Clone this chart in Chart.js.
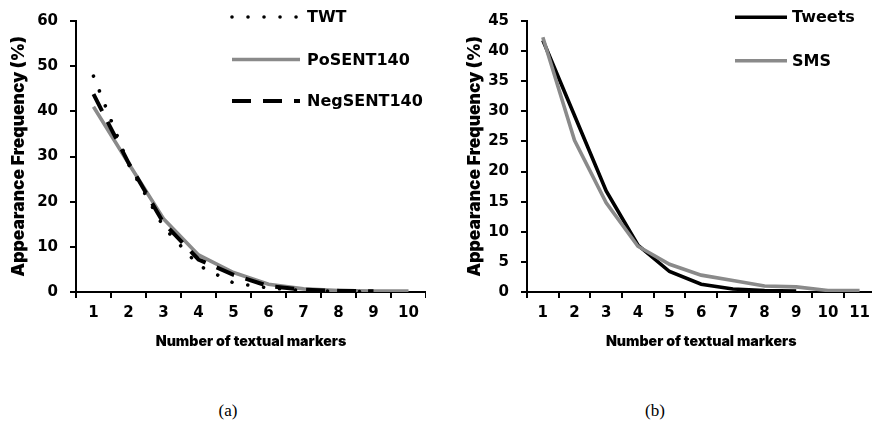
<!DOCTYPE html>
<html><head><meta charset="utf-8">
<script src="https://cdn.jsdelivr.net/npm/chart.js@4/dist/chart.umd.min.js"></script>
<style>
html,body{margin:0;padding:0;background:#fff;overflow:hidden;width:872px;height:429px;position:relative;}
#ca{position:absolute;left:0;top:0;}
#cb{position:absolute;left:450px;top:0;}
.cap{position:absolute;top:401px;font-family:"Liberation Serif",serif;font-size:17px;color:#000;transform:translateX(-50%);}
</style></head><body>
<canvas id="ca" width="426" height="354"></canvas>
<canvas id="cb" width="426" height="354"></canvas>
<div class="cap" style="left:228px">(a)</div>
<div class="cap" style="left:655px">(b)</div>
<script>
// ---- data (a)
const catsA = ["1","2","3","4","5","6","7","8","9","10"];
const twt = [47.8, 28.3, 14.4, 5.9, 2.0, 0.9, 0.3, 0.15, 0.1];
const poSent = [41.0, 28.5, 16.2, 8.2, 4.3, 1.7, 0.7, 0.3, 0.2, 0.2];
const negSent = [43.8, 28.6, 15.3, 7.2, 3.8, 1.3, 0.5, 0.25, 0.15];
const yTicksA = [0, 60, 10]; // min, max, step
// ---- data (b)
const catsB = ["1","2","3","4","5","6","7","8","9","10","11"];
const tweets = [41.8, 29.3, 16.8, 7.8, 3.4, 1.3, 0.5, 0.25, 0.15];
const sms = [42.3, 25.2, 14.8, 7.6, 4.6, 2.8, 1.9, 1.0, 0.85, 0.25, 0.25];
const yTicksB = [0, 45, 5];

const insideLegend = {
  id: 'insideLegend',
  afterDraw(chart, args, o) {
    const ctx = chart.ctx;
    ctx.save();
    chart.data.datasets.forEach((ds, i) => {
      const y = o.rows[i];
      ctx.beginPath();
      ctx.strokeStyle = ds.borderColor;
      ctx.lineWidth = ds.borderWidth;
      ctx.setLineDash(ds.borderDash || []);
      ctx.lineCap = ds.borderCapStyle || 'butt';
      ctx.moveTo(o.x0, y); ctx.lineTo(o.x1, y); ctx.stroke();
      ctx.setLineDash([]);
      ctx.fillStyle = '#000';
      ctx.font = 'bold 16px "DejaVu Sans"';
      ctx.textBaseline = 'middle'; ctx.textAlign = 'left';
      ctx.fillText(ds.label, o.tx, y + 1);
    });
    ctx.restore();
  }
};

const tickFont = {family: 'DejaVu Sans', weight: 'bold', size: 15};
function scales(yt, yw, ytitlePad) {
  return {
    x: {
      type: 'category', offset: true,
      grid: {offset: true, drawOnChartArea: false, drawTicks: true, tickLength: 6, color: '#000', lineWidth: 2},
      border: {color: '#000', width: 2},
      ticks: {font: tickFont, color: '#000', padding: 6, maxRotation: 0, autoSkip: false},
      title: {display: true, text: 'Number of textual markers', color: '#000',
              font: {family: 'Inter', weight: '900', size: 14.2}, padding: {top: 4, bottom: 4}},
      afterFit(s) { s.height = 62; }
    },
    y: {
      min: yt[0], max: yt[1],
      grid: {drawOnChartArea: false, drawTicks: true, tickLength: 6, color: '#000', lineWidth: 2},
      border: {color: '#000', width: 2},
      ticks: {stepSize: yt[2], font: tickFont, color: '#000', padding: 12},
      title: {display: true, text: 'Appearance Frequency (%)', color: '#000',
              font: {family: 'Inter', weight: '900', size: 17.5}, padding: {top: ytitlePad, bottom: 0}},
      afterFit(s) { s.width = yw; }
    }
  };
}
const common = {
  responsive: false, animation: false, devicePixelRatio: 1,
  layout: {padding: {top: 10, right: 0, left: 0, bottom: 0}},
  elements: {point: {radius: 0}, line: {tension: 0}},
};

new Chart(document.getElementById('ca'), {
  type: 'line',
  data: {labels: catsA, datasets: [
    {label: 'TWT', data: twt, borderColor: '#000', borderWidth: 3.6, borderDash: [0.01, 16], borderCapStyle: 'round', order: 1},
    {label: 'PoSENT140', data: poSent, borderColor: '#8a8a8a', borderWidth: 3.6, order: 3},
    {label: 'NegSENT140', data: negSent, borderColor: '#000', borderWidth: 4, borderDash: [19, 12], order: 2}
  ]},
  options: Object.assign({}, common, {
    scales: scales(yTicksA, 76, 8),
    plugins: {legend: {display: false}, tooltip: {enabled: false},
      insideLegend: {x0: 232, x1: 300, tx: 307, rows: [17, 59.5, 101]}}
  }),
  plugins: [insideLegend]
});

new Chart(document.getElementById('cb'), {
  type: 'line',
  data: {labels: catsB, datasets: [
    {label: 'Tweets', data: tweets, borderColor: '#000', borderWidth: 3.6, order: 2},
    {label: 'SMS', data: sms, borderColor: '#8a8a8a', borderWidth: 3.6, order: 1}
  ]},
  options: Object.assign({}, common, {
    scales: scales(yTicksB, 77, 14),
    plugins: {legend: {display: false}, tooltip: {enabled: false},
      insideLegend: {x0: 285, x1: 337, tx: 342, rows: [17.3, 60.7]}}
  }),
  plugins: [insideLegend]
});
</script>
</body></html>
